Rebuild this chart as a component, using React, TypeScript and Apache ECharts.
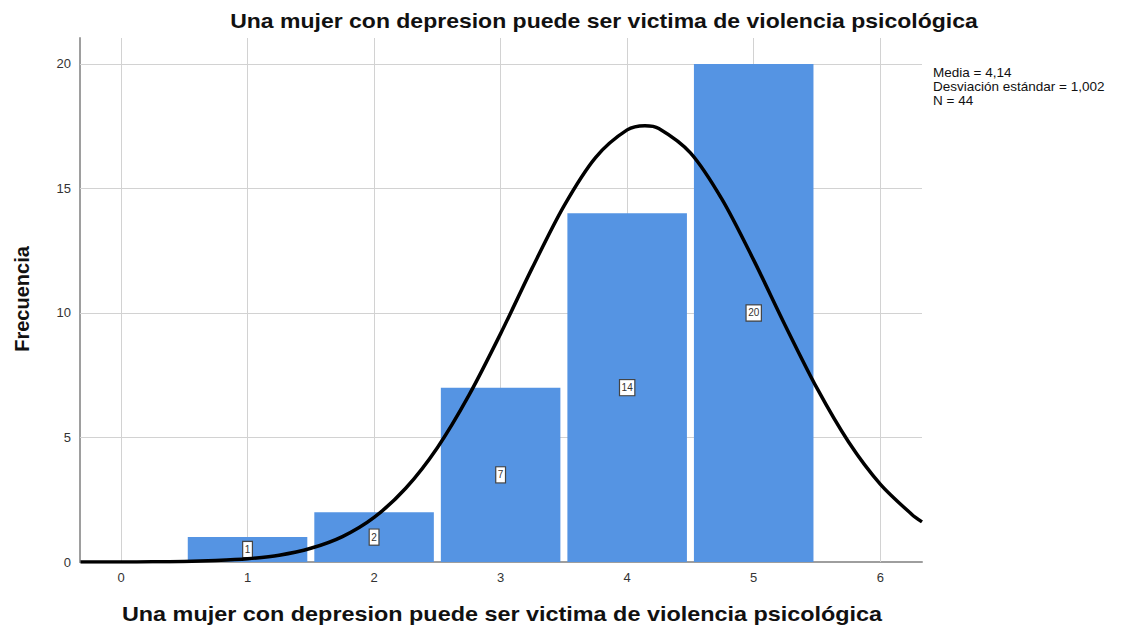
import React, { useEffect, useRef } from "react";
import * as echarts from "echarts";

const titleText = "Una mujer con depresion puede ser victima de violencia psicológica";
const xAxisName = "Una mujer con depresion puede ser victima de violencia psicológica";
const yAxisName = "Frecuencia";
const statsLines = ["Media = 4,14", "Desviación estándar = 1,002", "N = 44"];

const binCenters = [1, 2, 3, 4, 5];
const frequencies = [1, 2, 7, 14, 20];

const xTicks = [0, 1, 2, 3, 4, 5, 6];
const yTicks = [0, 5, 10, 15, 20];
const yGrid = [5, 10, 15, 20];

// normal curve (mean 4.14, sd 1.002, N 44)
const curveX = [-0.32, 0, 0.25, 0.5, 0.75, 1, 1.25, 1.5, 1.75, 2, 2.25, 2.5, 2.75, 3, 3.25, 3.5, 3.75, 4, 4.14, 4.25, 4.5, 4.75, 5, 5.25, 5.5, 5.75, 6, 6.25, 6.33];
const curveY = [0.0, 0.0, 0.01, 0.02, 0.06, 0.13, 0.27, 0.55, 1.02, 1.79, 2.96, 4.59, 6.7, 9.17, 11.81, 14.29, 16.24, 17.35, 17.52, 17.41, 16.43, 14.56, 12.12, 9.49, 6.98, 4.82, 3.13, 1.91, 1.61];

const FONT = "'Liberation Sans', Arial, sans-serif";

export default function App() {
  const ref = useRef<HTMLDivElement>(null);
  useEffect(() => {
    document.body.style.margin = "0";
    const chart = echarts.init(ref.current!, null, { renderer: "svg" });
    const barData = binCenters.map((c, i) => [c, frequencies[i]]);
    const curveData = curveX.map((x, i) => [x, curveY[i]]);
    chart.setOption({
      animation: false,
      textStyle: { fontFamily: FONT },
      grid: { left: 80, right: 219, top: 38, bottom: 65, containLabel: false },
      xAxis: {
        type: "value",
        min: -0.324,
        max: 6.33,
        axisLine: { show: true, onZero: false, lineStyle: { color: "#9e9e9e", width: 2 } },
        axisTick: { show: false },
        splitLine: { show: false },
        axisLabel: { customValues: xTicks, color: "#333", fontSize: 13, margin: 9, fontFamily: FONT },
      },
      yAxis: {
        type: "value",
        min: 0,
        max: 21.04,
        axisLine: { show: true, onZero: false, lineStyle: { color: "#9e9e9e", width: 2 } },
        axisTick: { show: false },
        splitLine: { show: false },
        axisLabel: { customValues: yTicks, color: "#333", fontSize: 13, margin: 9, fontFamily: FONT },
      },
      graphic: [
        {
          type: "text",
          x: 604,
          y: 21,
          scaleX: 1.15,
          style: { text: titleText, font: `bold 20px ${FONT}`, fill: "#111", align: "center", verticalAlign: "middle" },
        },
        {
          type: "text",
          x: 502,
          y: 614,
          scaleX: 1.17,
          style: { text: xAxisName, font: `bold 20px ${FONT}`, fill: "#111", align: "center", verticalAlign: "middle" },
        },
        {
          type: "text",
          x: 22,
          y: 299,
          rotation: Math.PI / 2,
          style: { text: yAxisName, font: `bold 20px ${FONT}`, fill: "#111", align: "center", verticalAlign: "middle" },
        },
        {
          type: "text",
          x: 933,
          y: 65,
          style: { text: statsLines.join("\n"), font: `13.5px ${FONT}`, lineHeight: 14, fill: "#111", align: "left", verticalAlign: "top" },
        },
      ],
      series: [
        {
          type: "line",
          z: 1,
          data: [],
          silent: true,
          markLine: {
            z: 1,
            silent: true,
            symbol: ["none", "none"],
            label: { show: false },
            lineStyle: { color: "#d2d2d2", width: 1, type: "solid" },
            data: [...xTicks.map((v) => ({ xAxis: v })), ...yGrid.map((v) => ({ yAxis: v }))],
          },
        },
        {
          type: "custom",
          z: 3,
          data: barData,
          encode: { x: 0, y: 1 },
          renderItem: (params: any, api: any) => {
            const x = api.value(0);
            const y = api.value(1);
            const p0 = api.coord([x - 0.5, y]);
            const p1 = api.coord([x + 0.5, 0]);
            const mid = api.coord([x, y / 2]);
            return {
              type: "group",
              children: [
                {
                  type: "rect",
                  shape: { x: p0[0] + 3.5, y: p0[1], width: p1[0] - p0[0] - 7, height: p1[1] - p0[1] },
                  style: { fill: "#5594e3" },
                },
                {
                  type: "text",
                  x: mid[0],
                  y: mid[1],
                  style: {
                    text: String(y),
                    font: `10px ${FONT}`,
                    fill: "#333",
                    align: "center",
                    verticalAlign: "middle",
                    backgroundColor: "#fff",
                    borderColor: "#444",
                    borderWidth: 1.2,
                    padding: [3, 1.5, 2, 1.5],
                  },
                },
              ],
            };
          },
        },
        {
          type: "line",
          z: 4,
          data: curveData,
          smooth: 0.3,
          showSymbol: false,
          symbol: "none",
          silent: true,
          lineStyle: { color: "#000", width: 3.5 },
        },
      ],
    });
    return () => chart.dispose();
  }, []);
  return <div ref={ref} style={{ width: 1141, height: 627 }} />;
}
